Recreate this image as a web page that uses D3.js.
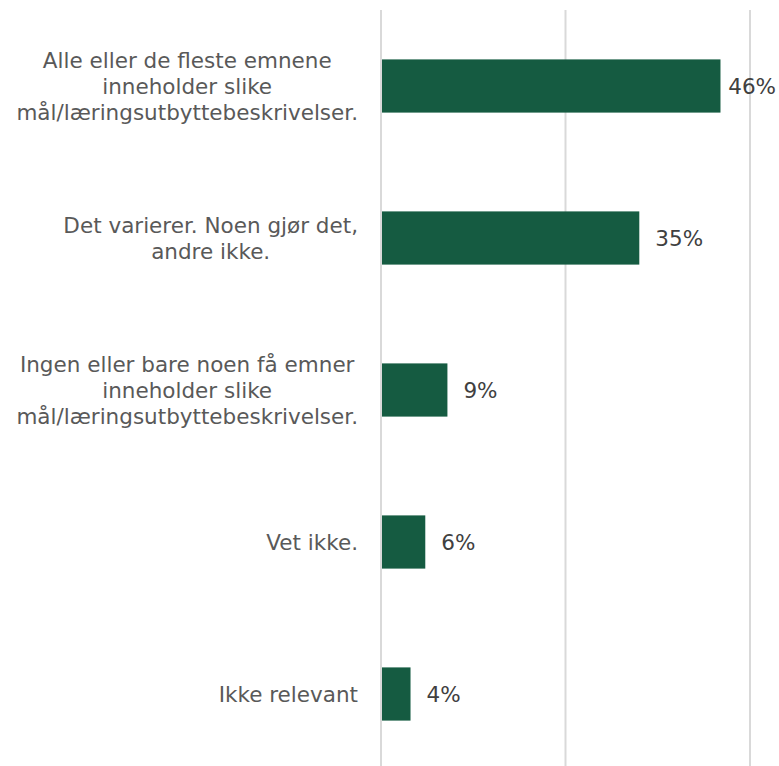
<!DOCTYPE html>
<html lang="no">
<head>
<meta charset="utf-8">
<script src="https://d3js.org/d3.v7.min.js"></script>
<style>
  body { margin: 0; background: #fff; }
  svg { display: block; font-family: "DejaVu Sans", Verdana, sans-serif; }
</style>
</head>
<body>
<div id="chart"></div>
<script>
// data
var categories = [
  ["Alle eller de fleste emnene", "inneholder slike", "mål/læringsutbyttebeskrivelser."],
  ["Det varierer. Noen gjør det,", "andre ikke."],
  ["Ingen eller bare noen få emner", "inneholder slike", "mål/læringsutbyttebeskrivelser."],
  ["Vet ikke."],
  ["Ikke relevant"]
];
var values = [46, 35, 9, 6, 4];
var ticks = [0, 25, 50];

var W = 779, H = 766;
var svg = d3.select("#chart").append("svg")
    .attr("width", W).attr("height", H);

var x = d3.scaleLinear().domain([0, 50]).range([381, 750]);
var y = d3.scaleBand().domain(d3.range(values.length)).range([10, 770]).paddingInner(0.65).paddingOuter(0.325);

// gridlines
svg.append("g").selectAll("line")
  .data(ticks).enter().append("line")
    .attr("x1", function(d) { return x(d); })
    .attr("x2", function(d) { return x(d); })
    .attr("y1", 10).attr("y2", H)
    .attr("stroke", "#d9d9d9")
    .attr("stroke-width", 2);

// bars
svg.append("g").selectAll("rect")
  .data(values).enter().append("rect")
    .attr("x", x(0) + 1)
    .attr("y", function(d, i) { return y(i); })
    .attr("width", function(d) { return x(d) - x(0) - 1; })
    .attr("height", y.bandwidth())
    .attr("fill", "#155b41");

// value labels
svg.append("g").selectAll("text")
  .data(values).enter().append("text")
    .attr("y", function(d, i) { return y(i) + y.bandwidth() / 2; })
    .attr("dy", "0.36em")
    .attr("fill", "#404040")
    .style("font-size", "21.5px")
    .text(function(d) { return d + "%"; })
    .each(function(d) {
      var w = this.getComputedTextLength();
      d3.select(this).attr("x", Math.min(x(d) + 16, W - w - 3));
    });

// category labels (block right edge at 358, lines centred)
var lineH = 26, rightEdge = 358;
categories.forEach(function(lines, i) {
  var g = svg.append("g");
  var cy = y(i) + y.bandwidth() / 2;
  var t = g.selectAll("text").data(lines).enter().append("text")
      .attr("text-anchor", "middle")
      .attr("fill", "#595959")
      .style("font-size", "21.5px")
      .attr("y", function(d, k) { return cy + (k - (lines.length - 1) / 2) * lineH; })
      .attr("dy", "0.36em")
      .text(function(d) { return d; });
  var maxW = 0;
  t.each(function() { maxW = Math.max(maxW, this.getComputedTextLength()); });
  t.attr("x", rightEdge - maxW / 2);
});
</script>
</body>
</html>
